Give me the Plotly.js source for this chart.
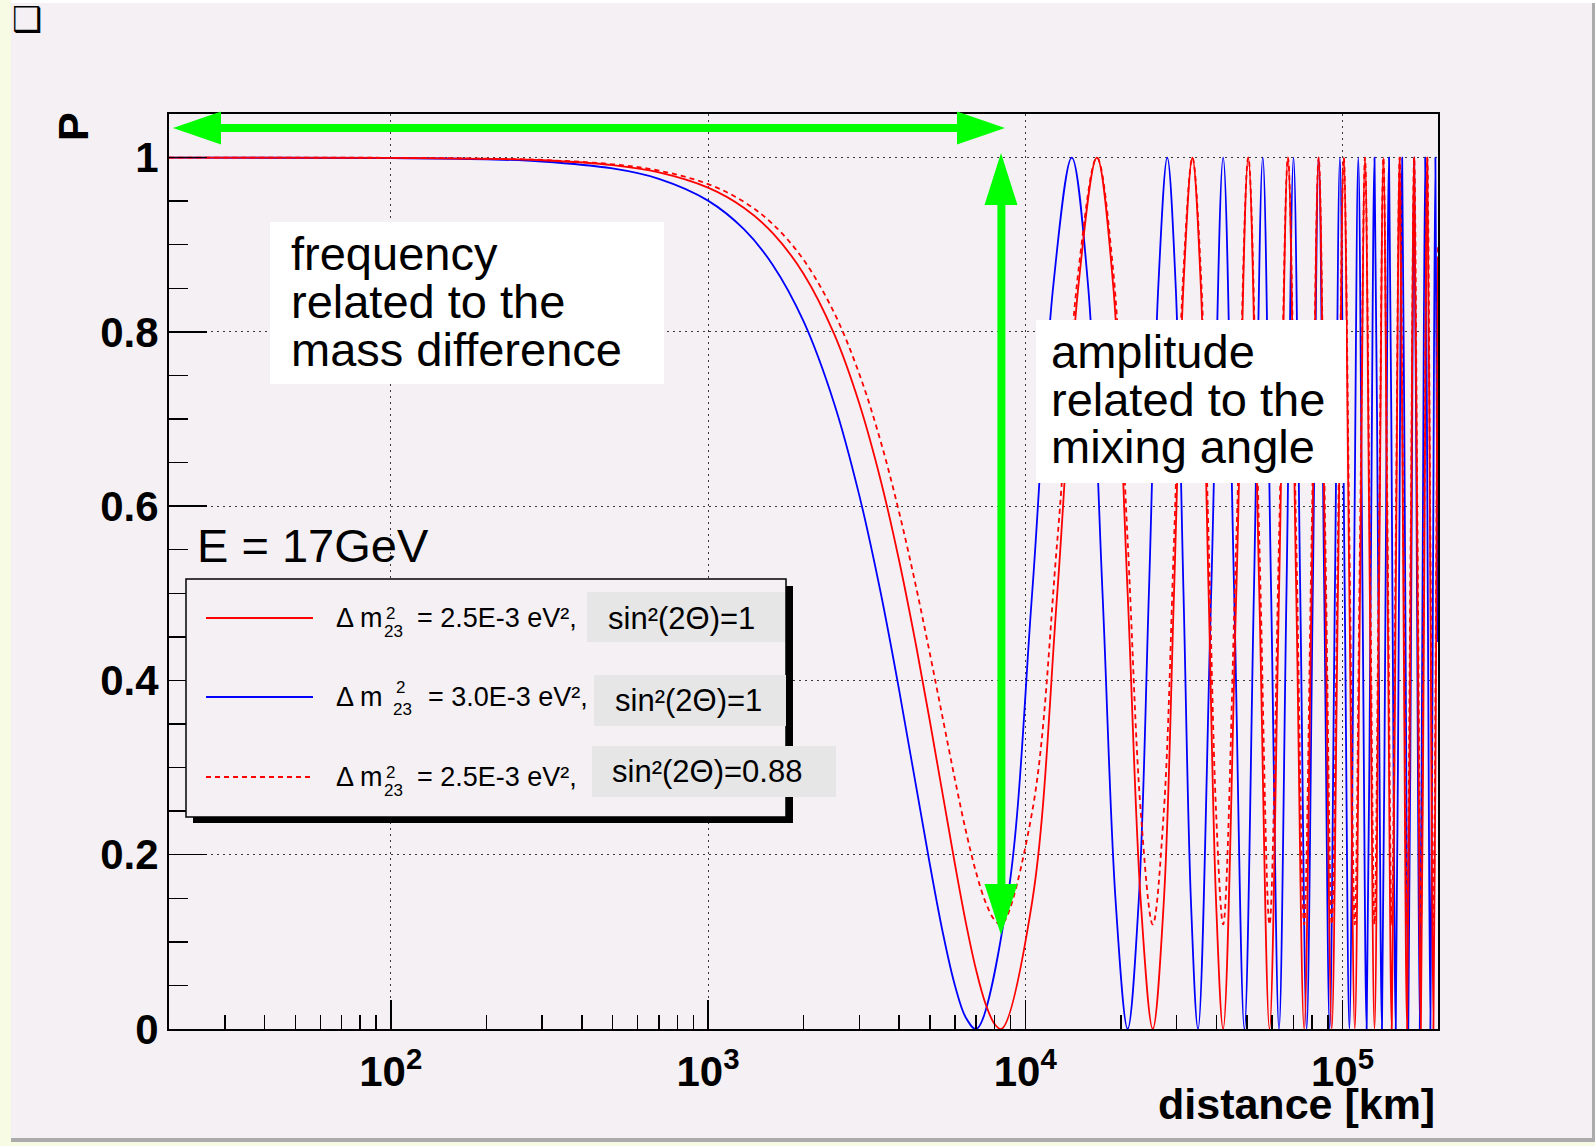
<!DOCTYPE html>
<html>
<head>
<meta charset="utf-8">
<script src="https://cdn.plot.ly/plotly-3.0.1.min.js"></script>
<style>
html,body{margin:0;padding:0;background:#ffffff;}
#wrap{position:relative;width:1595px;height:1146px;overflow:hidden;}
#chart{position:absolute;left:0;top:0;width:1595px;height:1146px;}
.strip{position:absolute;}
</style>
</head>
<body>
<div id="wrap">
  <div id="chart"></div>
  <div class="strip" style="left:0;top:0;width:11px;height:1146px;background:#f8fbe3"></div>
  <div class="strip" style="left:11px;top:0;width:1584px;height:3px;background:#ffffff"></div>
  <div class="strip" style="left:1592px;top:3px;width:3px;height:1139px;background:#ababab"></div>
  <div class="strip" style="left:11px;top:1138px;width:1584px;height:4px;background:#ababab"></div>
  <div class="strip" style="left:11px;top:1142px;width:1584px;height:4px;background:#f8fbe3"></div>
</div>
<script>
// ---------------- data ----------------
// distance [km] for the two dm2 = 2.5E-3 curves (solid and dashed share abscissae)
const distRed = [20, 100, 200, 300, 500, 700, 1000, 1300, 1600, 2000, 2500, 3000, 3500, 4000, 4500, 5000, 5500, 6000, 6500, 7000, 7500, 8000, 8411,
  10513, 12616, 14719, 16821, 18924, 21027, 23129, 25232, 27335, 29437, 31540, 33642, 35745, 37848, 39950, 42053,
  46258, 50464, 54669, 58874, 63080, 67285, 71490, 75696, 79901, 84106, 88312, 92517, 96722, 100927, 105133, 109338,
  113543, 117749, 121954, 126159, 130365, 134570, 138775, 142981, 147186, 151391, 155597, 159802, 164007, 168212,
  172418, 176623, 180828, 185034, 189239, 193444, 197650, 200000];

// P for dm2 = 2.5E-3 eV2, sin2(2theta) = 1
const probRed = [1, 0.9997, 0.9986, 0.9969, 0.9913, 0.9830, 0.9655, 0.9422, 0.9133, 0.8668, 0.7974, 0.7176, 0.6301, 0.5382, 0.4451, 0.3540, 0.2680, 0.1896, 0.1218, 0.0677, 0.0287, 0.0059, 0,
  0.146, 0.5, 0.854, 1, 0.854, 0.5, 0.146, 0, 0.146, 0.5, 0.854, 1, 0.854, 0.5, 0.146, 0,
  0.5, 1, 0.5, 0, 0.5, 1, 0.5, 0, 0.5, 1, 0.5, 0, 0.5, 1, 0.5, 0,
  0.5, 1, 0.5, 0, 0.5, 1, 0.5, 0, 0.5, 1, 0.5, 0, 0.5, 1, 0.5, 0,
  0.5, 1, 0.5, 0, 0.5,
  0.885];

// P for dm2 = 2.5E-3 eV2, sin2(2theta) = 0.88
const probRedDash = [1, 0.9997, 0.9988, 0.9973, 0.9923, 0.9850, 0.9696, 0.9491, 0.9237, 0.8828, 0.8217, 0.7515, 0.6745, 0.5936, 0.5117, 0.4315, 0.3558, 0.2868, 0.2272, 0.1796, 0.1453, 0.1252, 0.12,
  0.249, 0.56, 0.871, 1, 0.871, 0.56, 0.249, 0.12, 0.249, 0.56, 0.871, 1, 0.871, 0.56, 0.249, 0.12,
  0.56, 1, 0.56, 0.12, 0.56, 1, 0.56, 0.12, 0.56, 1, 0.56, 0.12, 0.56, 1, 0.56, 0.12,
  0.56, 1, 0.56, 0.12, 0.56, 1, 0.56, 0.12, 0.56, 1, 0.56, 0.12, 0.56, 1, 0.56, 0.12,
  0.56, 1, 0.56, 0.12, 0.56,
  0.899];

// distance [km] for dm2 = 3.0E-3 curve
const distBlue = [20, 100, 200, 300, 500, 700, 1000, 1300, 1600, 2000, 2500, 3000, 3500, 4000, 4500, 5000, 5500, 6000, 6500, 7009,
  8761, 10513, 12265, 14018, 15770, 17522, 19274, 21027, 22779, 24531, 26283, 28035, 29788, 31540, 33292, 35044,
  38548, 42053, 45557, 49062, 52566, 56070, 59575, 63079, 66584, 70088, 73592, 77097, 80601, 84106, 87610, 91114,
  94619, 98123, 101628, 105132, 108636, 112141, 115645, 119150, 122654, 126158, 129663, 133167, 136672, 140176,
  143680, 147185, 150689, 154194, 157698, 161202, 164707, 168211, 171716, 175220, 178724, 182229, 185733, 189238,
  192742, 196246, 200000];

// P for dm2 = 3.0E-3 eV2, sin2(2theta) = 1
const probBlue = [1, 0.9995, 0.9980, 0.9955, 0.9875, 0.9756, 0.9506, 0.9175, 0.8768, 0.8122, 0.7176, 0.6121, 0.5012, 0.3898, 0.2842, 0.1896, 0.1102, 0.0503, 0.0130, 0,
  0.146, 0.5, 0.854, 1, 0.854, 0.5, 0.146, 0, 0.146, 0.5, 0.854, 1, 0.854, 0.5, 0.146, 0,
  0.5, 1, 0.5, 0, 0.5, 1, 0.5, 0, 0.5, 1, 0.5, 0, 0.5, 1, 0.5, 0,
  0.5, 1, 0.5, 0, 0.5, 1, 0.5, 0, 0.5, 1, 0.5, 0, 0.5, 1, 0.5, 0,
  0.5, 1, 0.5, 0, 0.5, 1, 0.5, 0, 0.5, 1, 0.5, 0,
  0.5, 1,
  0.444];

const xTickVals = [100, 1000, 10000, 100000];
const xTickText = ['10<sup>2</sup>', '10<sup>3</sup>', '10<sup>4</sup>', '10<sup>5</sup>'];
const xMinorVals = [30, 40, 50, 60, 70, 80, 90, 200, 300, 400, 500, 600, 700, 800, 900,
  2000, 3000, 4000, 5000, 6000, 7000, 8000, 9000, 20000, 30000, 40000, 50000, 60000, 70000, 80000, 90000];
const yTickVals = [0, 0.2, 0.4, 0.6, 0.8, 1];
const yTickText = ['0', '0.2', '0.4', '0.6', '0.8', '1'];
const yMinorVals = [0.05, 0.1, 0.15, 0.25, 0.3, 0.35, 0.45, 0.5, 0.55, 0.65, 0.7, 0.75, 0.85, 0.9, 0.95];

const legendDm = ['2.5E-3', '3.0E-3', '2.5E-3'];
const legendSin = ['sin²(2Θ)=1', 'sin²(2Θ)=1', 'sin²(2Θ)=0.88'];
const energyLabel = 'E = 17GeV';
const noteFreq = ['frequency', 'related to the', 'mass difference'];
const noteAmp = ['amplitude', 'related to the', 'mixing angle'];

// ---------------- layout helpers (pixel -> paper) ----------------
const W = 1595, H = 1146, ML = 169, MR = 157, MT = 114, MB = 117;
const PW = W - ML - MR, PH = H - MT - MB;
const fx = px => (px - ML) / PW;
const fy = py => (H - MB - py) / PH;
const FONT = 'Liberation Sans, Arial, Helvetica, sans-serif';
const BG = '#f4f0f4';
const GREEN = '#00ff00';

function ann(text, px, py, size, extra) {
  return Object.assign({
    text: text, x: fx(px), y: fy(py), xref: 'paper', yref: 'paper',
    xanchor: 'left', yanchor: 'middle', showarrow: false,
    font: {family: FONT, size: size, color: '#000000'}
  }, extra || {});
}
function rect(x0, y0, x1, y1, fill, line) {
  return {type: 'rect', xref: 'paper', yref: 'paper', x0: fx(x0), x1: fx(x1), y0: fy(y1), y1: fy(y0),
    fillcolor: fill, line: line || {width: 0}, layer: 'above'};
}
function seg(x0, y0, x1, y1, color, width, dash) {
  return {type: 'line', xref: 'paper', yref: 'paper', x0: fx(x0), x1: fx(x1), y0: fy(y0), y1: fy(y1),
    line: {color: color, width: width, dash: dash || 'solid'}, layer: 'above'};
}
function tri(a, b, c) {
  return {type: 'path', xref: 'paper', yref: 'paper',
    path: 'M' + fx(a[0]) + ',' + fy(a[1]) + ' L' + fx(b[0]) + ',' + fy(b[1]) + ' L' + fx(c[0]) + ',' + fy(c[1]) + ' Z',
    fillcolor: GREEN, line: {width: 0}, layer: 'above'};
}

// ---------------- traces ----------------
const traces = [
  {x: distBlue, y: probBlue, type: 'scatter', mode: 'lines', name: 'dm2=3.0E-3, sin2=1',
   line: {color: '#0000ff', width: 1.8, shape: 'spline'}},
  {x: distRed, y: probRedDash, type: 'scatter', mode: 'lines', name: 'dm2=2.5E-3, sin2=0.88',
   line: {color: '#ff0000', width: 1.8, shape: 'spline', dash: '5px,4px'}},
  {x: distRed, y: probRed, type: 'scatter', mode: 'lines', name: 'dm2=2.5E-3, sin2=1',
   line: {color: '#ff0000', width: 1.8, shape: 'spline'}}
];

// ---------------- shapes ----------------
const shapes = [
  // legend frame with shadow
  rect(193, 586, 793, 823, '#000000'),
  rect(186, 579, 786, 817, BG, {color: '#000000', width: 1.5}),
  seg(206, 618, 313, 618, '#ff0000', 2),
  seg(206, 697, 313, 697, '#0000ff', 2),
  seg(206, 777, 313, 777, '#ff0000', 2, '5px,4px'),
  rect(587, 592, 785, 642, '#e6e6e6'),
  rect(594, 675, 786, 726, '#e6e6e6'),
  rect(592, 746, 836, 797, '#e6e6e6'),
  // white note boxes
  rect(270, 222, 664, 384, '#ffffff'),
  rect(1036, 320, 1346, 483, '#ffffff'),
  // green arrows
  seg(215, 128, 963, 128, GREEN, 8),
  tri([173, 128], [221, 111.5], [221, 144.5]),
  tri([1005, 128], [957, 111.5], [957, 144.5]),
  seg(1001.4, 200, 1001.4, 889, GREEN, 8),
  tri([1001, 153], [984.5, 205], [1017.5, 205]),
  tri([1001, 935], [984.5, 884], [1017.5, 884])
];

// ---------------- annotations ----------------
const annotations = [
  ann('❑', 26.5, 18.5, 34, {xanchor: 'center', font: {family: 'DejaVu Sans', size: 34, color: '#000'}}),
  ann('P', 72.5, 126.5, 43, {xanchor: 'center', textangle: -90, font: {family: FONT, size: 43, color: '#000', weight: 'bold'}}),
  ann('distance [km]', 1437, 1104, 43, {xanchor: 'right', font: {family: FONT, size: 43, color: '#000', weight: 'bold'}}),
  ann(noteFreq[0], 289, 253.7, 47),
  ann(noteFreq[1], 289, 301.7, 47),
  ann(noteFreq[2], 289, 349.7, 47),
  ann(noteAmp[0], 1049, 351.7, 47),
  ann(noteAmp[1], 1049, 399.7, 47),
  ann(noteAmp[2], 1049, 446.7, 47),
  ann(energyLabel, 195, 545.7, 47),
  // legend row 1
  ann('Δ m', 334, 618, 27),
  ann('2', 384, 613, 17),
  ann('23', 382, 631, 17),
  ann('= ' + legendDm[0] + ' eV²,', 415, 618, 27),
  ann(legendSin[0], 606, 618, 31),
  // legend row 2
  ann('Δ m', 334, 697, 27),
  ann('2', 394, 687, 17),
  ann('23', 391, 709, 17),
  ann('= ' + legendDm[1] + ' eV²,', 426, 697, 27),
  ann(legendSin[1], 613, 700, 31),
  // legend row 3
  ann('Δ m', 334, 777, 27),
  ann('2', 384, 772, 17),
  ann('23', 382, 790, 17),
  ann('= ' + legendDm[2] + ' eV²,', 415, 777, 27),
  ann(legendSin[2], 610, 771, 31)
];

const axisCommon = {
  showline: true, linecolor: '#000000', linewidth: 2, mirror: true,
  ticks: 'inside', tickcolor: '#000000', tickwidth: 1.5,
  showgrid: true, gridcolor: '#3a3a3a', gridwidth: 1, griddash: '2px,4px',
  zeroline: false, tickmode: 'array',
  tickfont: {family: FONT, size: 42, color: '#000000', weight: 'bold'}
};

const layout = {
  width: W, height: H,
  margin: {l: ML, r: MR, t: MT, b: MB, pad: 0},
  paper_bgcolor: BG, plot_bgcolor: BG,
  showlegend: false,
  font: {family: FONT, color: '#000000'},
  xaxis: Object.assign({}, axisCommon, {
    type: 'log', range: [Math.log10(20), Math.log10(200000)],
    tickvals: xTickVals, ticktext: xTickText, ticklen: 29, ticklabelstandoff: 5,
    minor: {tickmode: 'array', tickvals: xMinorVals, ticks: 'inside', ticklen: 14, tickwidth: 1.5, tickcolor: '#000000', showgrid: false}
  }),
  yaxis: Object.assign({}, axisCommon, {
    range: [0, 1.05],
    tickvals: yTickVals, ticktext: yTickText, ticklen: 38,
    minor: {tickmode: 'array', tickvals: yMinorVals, ticks: 'inside', ticklen: 19, tickwidth: 1.5, tickcolor: '#000000', showgrid: false}
  }),
  shapes: shapes,
  annotations: annotations
};

Plotly.newPlot('chart', traces, layout, {displayModeBar: false, staticPlot: true});
</script>
</body>
</html>
